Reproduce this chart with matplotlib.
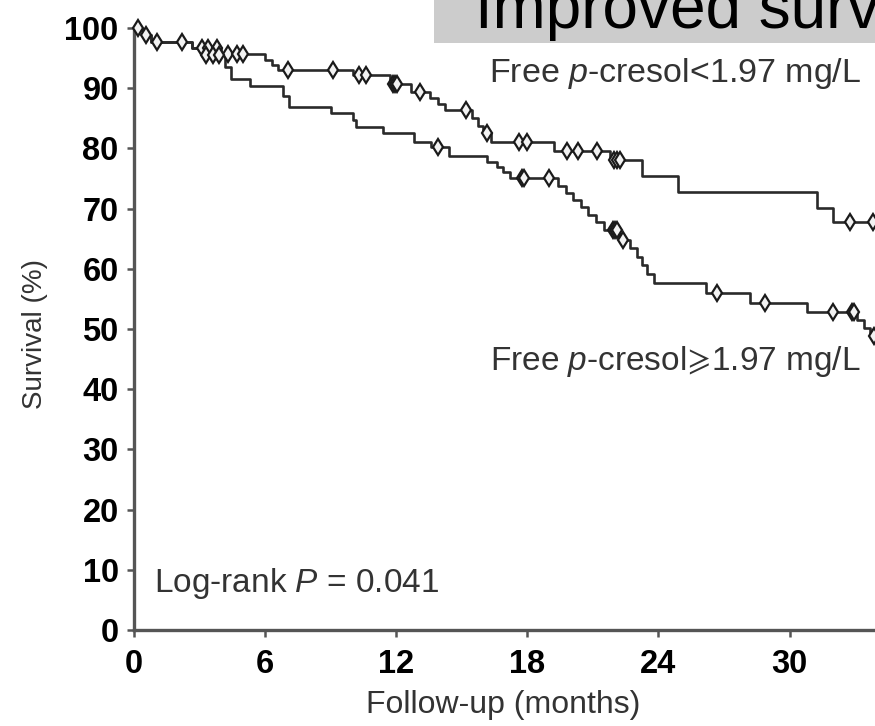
import numpy as np
import matplotlib
matplotlib.use("Agg")
import matplotlib.pyplot as plt
from matplotlib.patches import Rectangle

plt.rcParams['font.family'] = 'Liberation Sans'
plt.rcParams['mathtext.fontset'] = 'custom'
plt.rcParams['mathtext.rm'] = 'Liberation Sans'
plt.rcParams['mathtext.it'] = 'Liberation Sans:italic'
plt.rcParams['mathtext.fallback'] = 'stixsans'

# --- Kaplan-Meier steps (months, % surviving) ---
# free p-cresol < 1.97 mg/L
low_t = [0, 0.4, 0.8, 2.65, 4.0, 6.0, 6.3, 6.6, 10.0, 11.7, 12.7, 13.55, 13.9, 14.25,
         15.45, 15.75, 15.95, 16.35, 19.2, 21.8, 23.25, 24.9, 31.25, 32.0]
low_s = [100, 98.8, 97.7, 96.6, 95.6, 94.7, 93.9, 93.1, 92.2, 90.7, 89.4, 88.3, 87.4, 86.4,
         85.0, 83.7, 82.6, 81.0, 79.5, 78.1, 75.4, 72.8, 70.1, 67.7]
low_censor = [0.2, 0.55, 1.05, 2.2, 3.1, 3.4, 3.8, 4.3, 4.7, 5.0, 7.05, 9.1, 10.3, 10.6,
              11.85, 11.95, 12.05, 13.1, 15.2, 16.15, 17.6, 18.0, 19.8, 20.3, 21.2,
              21.95, 22.1, 22.25, 32.75, 33.8]

# free p-cresol >= 1.97 mg/L
high_t = [0, 0.4, 0.8, 2.65, 3.2, 4.15, 4.45, 5.3, 6.8, 7.1, 9.0, 10.0, 10.15, 11.4, 12.8,
          13.6, 14.4, 16.15, 16.6, 16.9, 17.2, 19.4, 19.75, 20.1, 20.45, 20.8, 21.15, 21.5,
          22.2, 22.7, 23.0, 23.25, 23.5, 23.8, 26.2, 28.2, 30.8, 33.1, 33.4, 33.7]
high_s = [100, 98.8, 97.7, 96.6, 95.5, 93.5, 91.5, 90.4, 88.7, 86.9, 85.8, 84.7, 83.6, 82.5,
          81.1, 80.2, 78.7, 77.8, 76.9, 76.1, 75.0, 73.8, 72.6, 71.4, 70.2, 69.0, 67.8, 66.4,
          64.8, 63.4, 62.0, 60.6, 59.2, 57.6, 56.0, 54.4, 52.8, 51.5, 50.2, 48.9]
high_censor = [3.3, 3.6, 3.9, 13.9, 17.75, 17.85, 19.0, 21.9, 22.0, 22.1, 22.4, 26.7,
               28.9, 32.0, 32.85, 32.95, 33.85]

followup_end = 36
xticks = [0, 6, 12, 18, 24, 30]
yticks = list(range(0, 101, 10))


def surv_at(t_steps, s_steps, times):
    idx = np.searchsorted(t_steps, times, side='right') - 1
    return np.asarray(s_steps)[idx]


fig = plt.figure(figsize=(8.75, 7.26), dpi=100)
ax = fig.add_axes([134 / 875, 96 / 726, 741 / 875, 602 / 726])

for t, s, cens in [(low_t, low_s, low_censor), (high_t, high_s, high_censor)]:
    ax.step(t + [followup_end], s + [s[-1]], where='post', color='#2a2a2a', lw=1.9)
    ax.plot(cens, surv_at(t, s, cens), ls='none', marker='d', ms=8, mfc='#f2f2f2',
            mec='#1a1a1a', mew=1.6, clip_on=False, zorder=3)

ax.set_xticks(xticks)
ax.set_yticks(yticks)
ax.set_xlim(0, 741 / 21.85)
ax.set_ylim(0, 100)
for side in ['top', 'right']:
    ax.spines[side].set_visible(False)
for side in ['left', 'bottom']:
    ax.spines[side].set_color('#555555')
    ax.spines[side].set_linewidth(2.4)
ax.tick_params(direction='out', length=5, width=1.8, color='#555555',
               labelsize=23.5, labelcolor='black')
ax.tick_params(axis='y', pad=6)
ax.tick_params(axis='x', pad=9)
for lab in ax.get_xticklabels() + ax.get_yticklabels():
    lab.set_fontweight('bold')

fig.text(35 / 875, 1 - 334 / 726, 'Survival (%)', rotation=90, ha='center', va='center',
         fontsize=20, color='#333333')
fig.text(503 / 875, 1 - 705 / 726, 'Follow-up (months)', ha='center', va='center',
         fontsize=23, color='#333333')

fig.text(489 / 875, 1 - 82 / 726, r'Free $p$-cresol<1.97 mg/L', ha='left', va='baseline',
         fontsize=24.5, color='#333333')
fig.text(490 / 875, 1 - 370 / 726, r'Free $p$-cresol$\!\geqslant\!$1.97 mg/L', ha='left',
         va='baseline', fontsize=24, color='#333333')
fig.text(154 / 875, 1 - 592 / 726, r'Log-rank $P$ = 0.041', ha='left', va='baseline',
         fontsize=24, color='#333333')

# title banner across the top
fig.patches.append(Rectangle((434 / 875, 1 - 43 / 726), 441 / 875, 43 / 726,
                             transform=fig.transFigure, facecolor='#cccccc',
                             edgecolor='none', zorder=0))
fig.text(475 / 875, 1 - 28 / 726, 'Improved survival', ha='left', va='baseline',
         fontsize=46, color='black')

fig.savefig('out.png', dpi=100)
